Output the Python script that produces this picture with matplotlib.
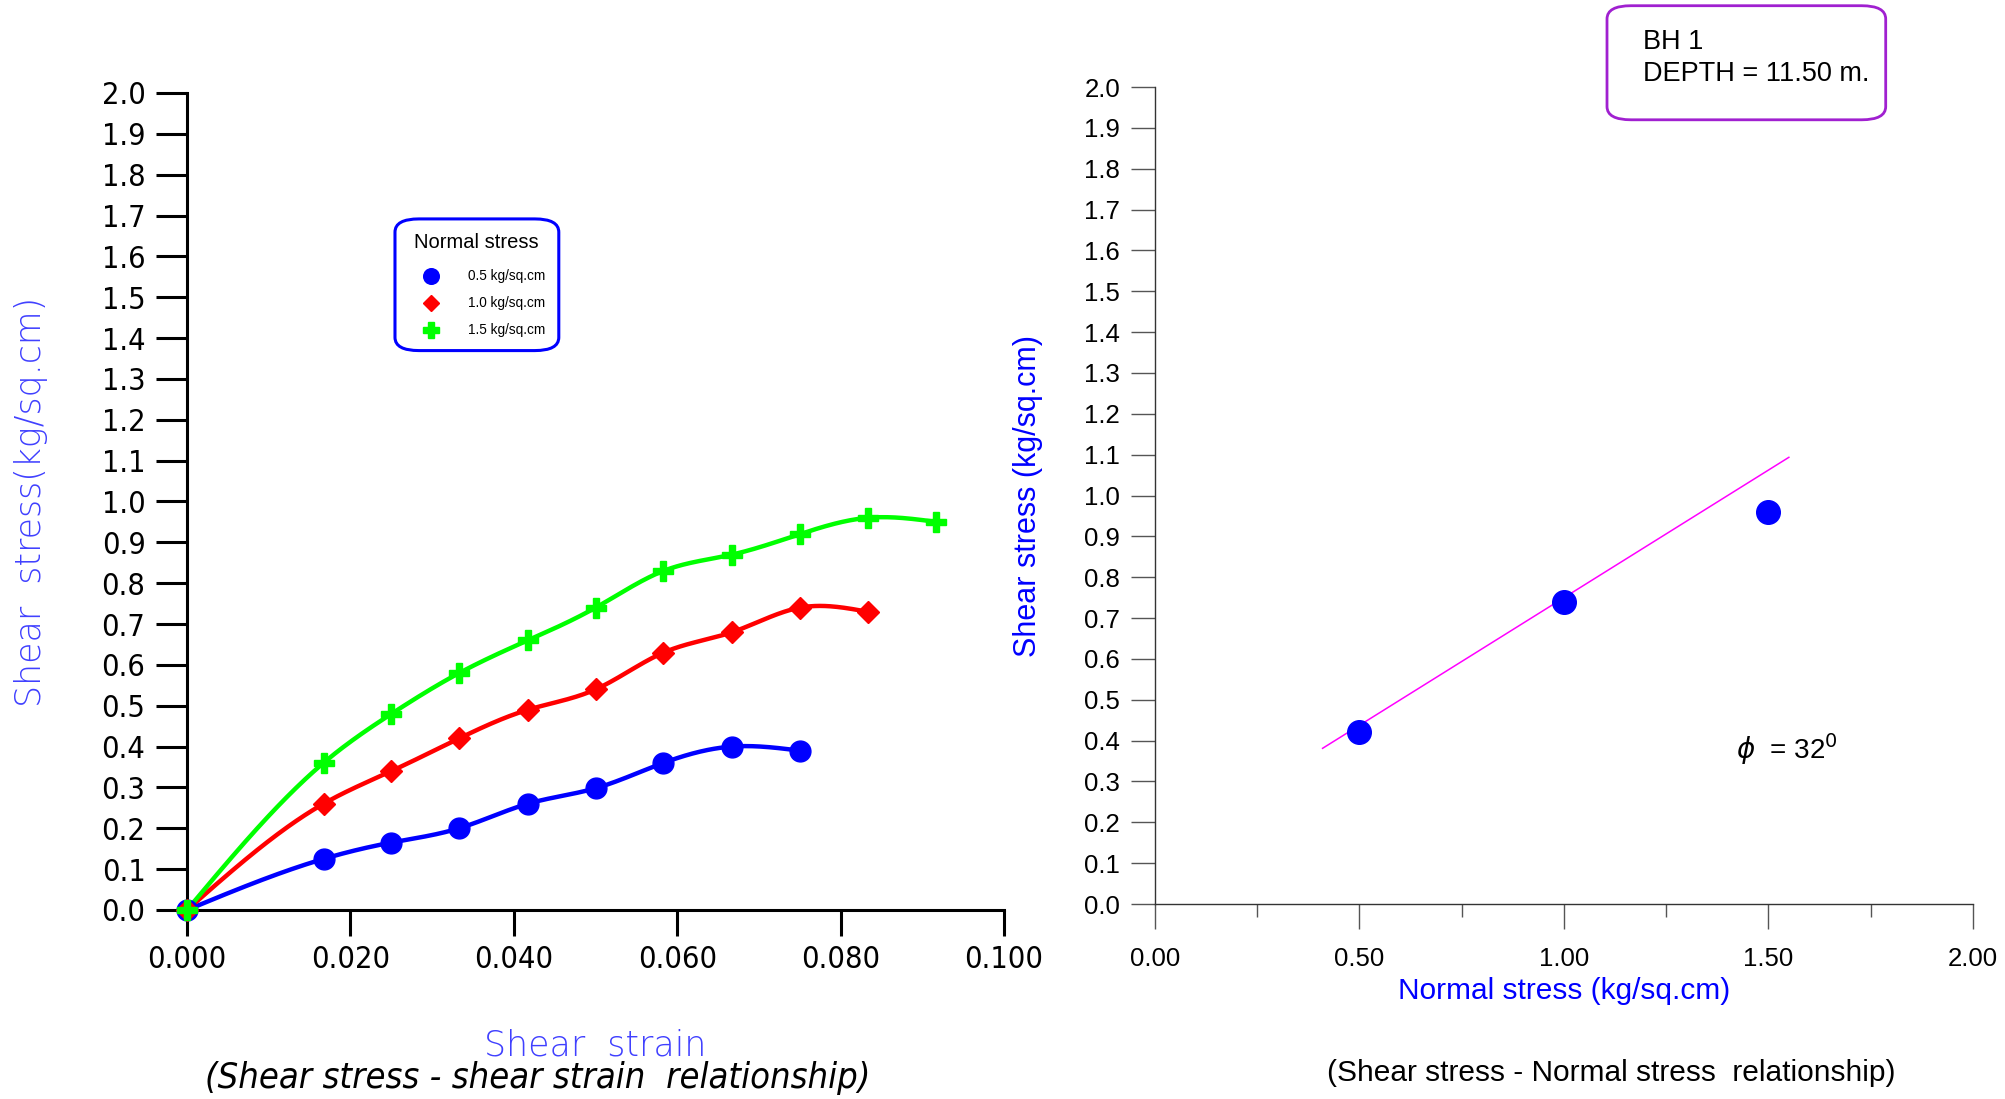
import matplotlib.pyplot as plt
from matplotlib.patches import FancyBboxPatch
from matplotlib.lines import Line2D
import numpy as np

# shear strain - shear stress data
strain = [0.0, 0.0167, 0.025, 0.0333, 0.0417, 0.05, 0.0583, 0.0667, 0.075, 0.0833, 0.0917]
tau_05 = [0.0, 0.125, 0.165, 0.20, 0.26, 0.298, 0.36, 0.40, 0.39]
tau_10 = [0.0, 0.26, 0.34, 0.42, 0.49, 0.54, 0.63, 0.68, 0.74, 0.73]
tau_15 = [0.0, 0.36, 0.48, 0.58, 0.66, 0.74, 0.83, 0.87, 0.92, 0.96, 0.95]
legend_labels = ['0.5 kg/sq.cm', '1.0 kg/sq.cm', '1.5 kg/sq.cm']

# failure envelope data
normal = [0.5, 1.0, 1.5]
peak = [0.42, 0.74, 0.96]
env_x = [0.41, 1.55]
cohesion = 0.125
phi_deg = 32

arial = ['Liberation Sans', 'DejaVu Sans']


def spline(x, y, n=400):
    # natural cubic spline through the points
    x = np.asarray(x, float)
    y = np.asarray(y, float)
    k = len(x)
    h = np.diff(x)
    A = np.zeros((k, k))
    b = np.zeros(k)
    A[0, 0] = A[-1, -1] = 1
    for i in range(1, k - 1):
        A[i, i - 1] = h[i - 1]
        A[i, i] = 2 * (h[i - 1] + h[i])
        A[i, i + 1] = h[i]
        b[i] = 3 * ((y[i + 1] - y[i]) / h[i] - (y[i] - y[i - 1]) / h[i - 1])
    c = np.linalg.solve(A, b)
    xs = np.linspace(x[0], x[-1], n)
    j = np.clip(np.searchsorted(x, xs) - 1, 0, k - 2)
    d = xs - x[j]
    bb = (y[j + 1] - y[j]) / h[j] - h[j] * (2 * c[j] + c[j + 1]) / 3
    dd = (c[j + 1] - c[j]) / (3 * h[j])
    return xs, y[j] + bb * d + c[j] * d ** 2 + dd * d ** 3


fig = plt.figure(figsize=(20.05, 10.99), dpi=100)
cond = dict(family='DejaVu Sans', stretch='condensed')

# ---- left: shear stress vs shear strain
ax = fig.add_axes([0.0933, 0.172, 0.4075, 0.7434])
series = [(tau_05, '#0000ff', 'o', 15), (tau_10, '#ff0000', 'D', 11), (tau_15, '#00ff00', 'P', 15)]
for vals, c, m, ms in series:
    xs = strain[:len(vals)]
    sx, sy = spline(xs, vals)
    ax.plot(sx, sy, color=c, lw=3.2, zorder=2)
    ax.plot(xs, vals, ls='none', marker=m, ms=ms, color=c, mec=c, zorder=3, clip_on=False)
ax.set_xlim(0, 0.1)
ax.set_ylim(0, 2.0)
ax.set_xticks(np.arange(0, 0.1001, 0.02))
ax.set_xticklabels(['%.3f' % v for v in np.arange(0, 0.1001, 0.02)])
ax.set_yticks(np.arange(0, 2.001, 0.1))
ax.set_yticklabels(['%.1f' % v for v in np.arange(0, 2.001, 0.1)])
for s in ['top', 'right']:
    ax.spines[s].set_visible(False)
for s in ['left', 'bottom']:
    ax.spines[s].set_linewidth(2.2)
ax.tick_params(axis='y', direction='out', length=22, width=2.2, pad=8, labelsize=22)
ax.tick_params(axis='x', direction='out', length=19, width=2.2, pad=6, labelsize=22)
for lab in ax.get_xticklabels() + ax.get_yticklabels():
    lab.set_family('DejaVu Sans')
    lab.set_stretch('condensed')
ax.set_ylabel('Shear  stress(kg/sq.cm)', color='#4040ff', fontsize=25, family='DejaVu Sans',
              fontweight='light')
ax.yaxis.set_label_coords(-0.17, 0.5)
fig.text(0.297, 0.049, 'Shear  strain', color='#4040ff', fontsize=25, family='DejaVu Sans',
         fontweight='light', ha='center', va='center')
fig.text(0.268, 0.019, '(Shear stress - shear strain  relationship)', fontsize=26,
         style='italic', ha='center', va='center', **cond)

# legend box
lg = FancyBboxPatch((0.197, 0.681), 0.0817, 0.1198, boxstyle='round,pad=0,rounding_size=0.012',
                    transform=fig.transFigure, fc='white', ec='#0000ff', lw=2.2, zorder=5)
fig.patches.append(lg)
fig.text(0.2375, 0.779, 'Normal stress', fontsize=14.5, family=arial, ha='center', va='center',
         zorder=6)
for i, ((vals, c, m, ms), lab) in enumerate(zip(series, legend_labels)):
    yy = 0.749 - i * 0.0245
    fig.lines.append(Line2D([0.215], [yy], transform=fig.transFigure, marker=m, color=c,
                            ms=ms * 0.75, ls='none', zorder=6))
    fig.text(0.2335, yy, lab, fontsize=9.8, family=arial, ha='left', va='center', zorder=6)

# ---- right: shear stress vs normal stress
ax2 = fig.add_axes([0.576, 0.1774, 0.408, 0.7434])
ex = np.array(env_x)
ax2.plot(ex, cohesion + np.tan(np.radians(phi_deg)) * ex, color='#ff00ff', lw=1.1)
ax2.plot(normal, peak, ls='none', marker='o', ms=17, color='#0000ff')
ax2.set_xlim(0, 2.0)
ax2.set_ylim(0, 2.0)
ax2.set_xticks(np.arange(0, 2.001, 0.5))
ax2.set_xticklabels(['%.2f' % v for v in np.arange(0, 2.001, 0.5)])
ax2.set_xticks(np.arange(0.25, 2.0, 0.5), minor=True)
ax2.set_yticks(np.arange(0, 2.001, 0.1))
ax2.set_yticklabels(['%.1f' % v for v in np.arange(0, 2.001, 0.1)])
for s in ['top', 'right']:
    ax2.spines[s].set_visible(False)
for s in ['left', 'bottom']:
    ax2.spines[s].set_linewidth(1.0)
    ax2.spines[s].set_color('#333333')
ax2.tick_params(axis='y', direction='out', length=17, width=1.0, color='#555555', pad=8,
                labelsize=18.5)
ax2.tick_params(axis='x', which='major', direction='out', length=18, width=1.0,
                color='#555555', pad=13, labelsize=18.5)
ax2.tick_params(axis='x', which='minor', direction='out', length=9, width=1.0, color='#555555')
for lab in ax2.get_xticklabels() + ax2.get_yticklabels():
    lab.set_family(arial)
ax2.set_ylabel('Shear stress (kg/sq.cm)', color='#0000ff', fontsize=22, family=arial)
ax2.yaxis.set_label_coords(-0.137, 0.5)
ax2.set_xlabel('Normal stress (kg/sq.cm)', color='#0000ff', fontsize=21.5, family=arial,
               labelpad=4)
fig.text(0.8035, 0.024, '(Shear stress - Normal stress  relationship)', fontsize=21.5,
         family=arial, ha='center', va='center')
ax2.text(1.42, 0.355, r'$\phi$  = %d$^0$' % phi_deg, fontsize=20, family=arial)

# BH box
bh = FancyBboxPatch((0.8015, 0.891), 0.139, 0.1038, boxstyle='round,pad=0,rounding_size=0.012',
                    transform=fig.transFigure, fc='white', ec='#a020d0', lw=2.0)
fig.patches.append(bh)
fig.text(0.8195, 0.962, 'BH 1', fontsize=19.5, family=arial, va='center')
fig.text(0.8195, 0.933, 'DEPTH = 11.50 m.', fontsize=19.5, family=arial, va='center')

fig.savefig('out.png', dpi=100)
